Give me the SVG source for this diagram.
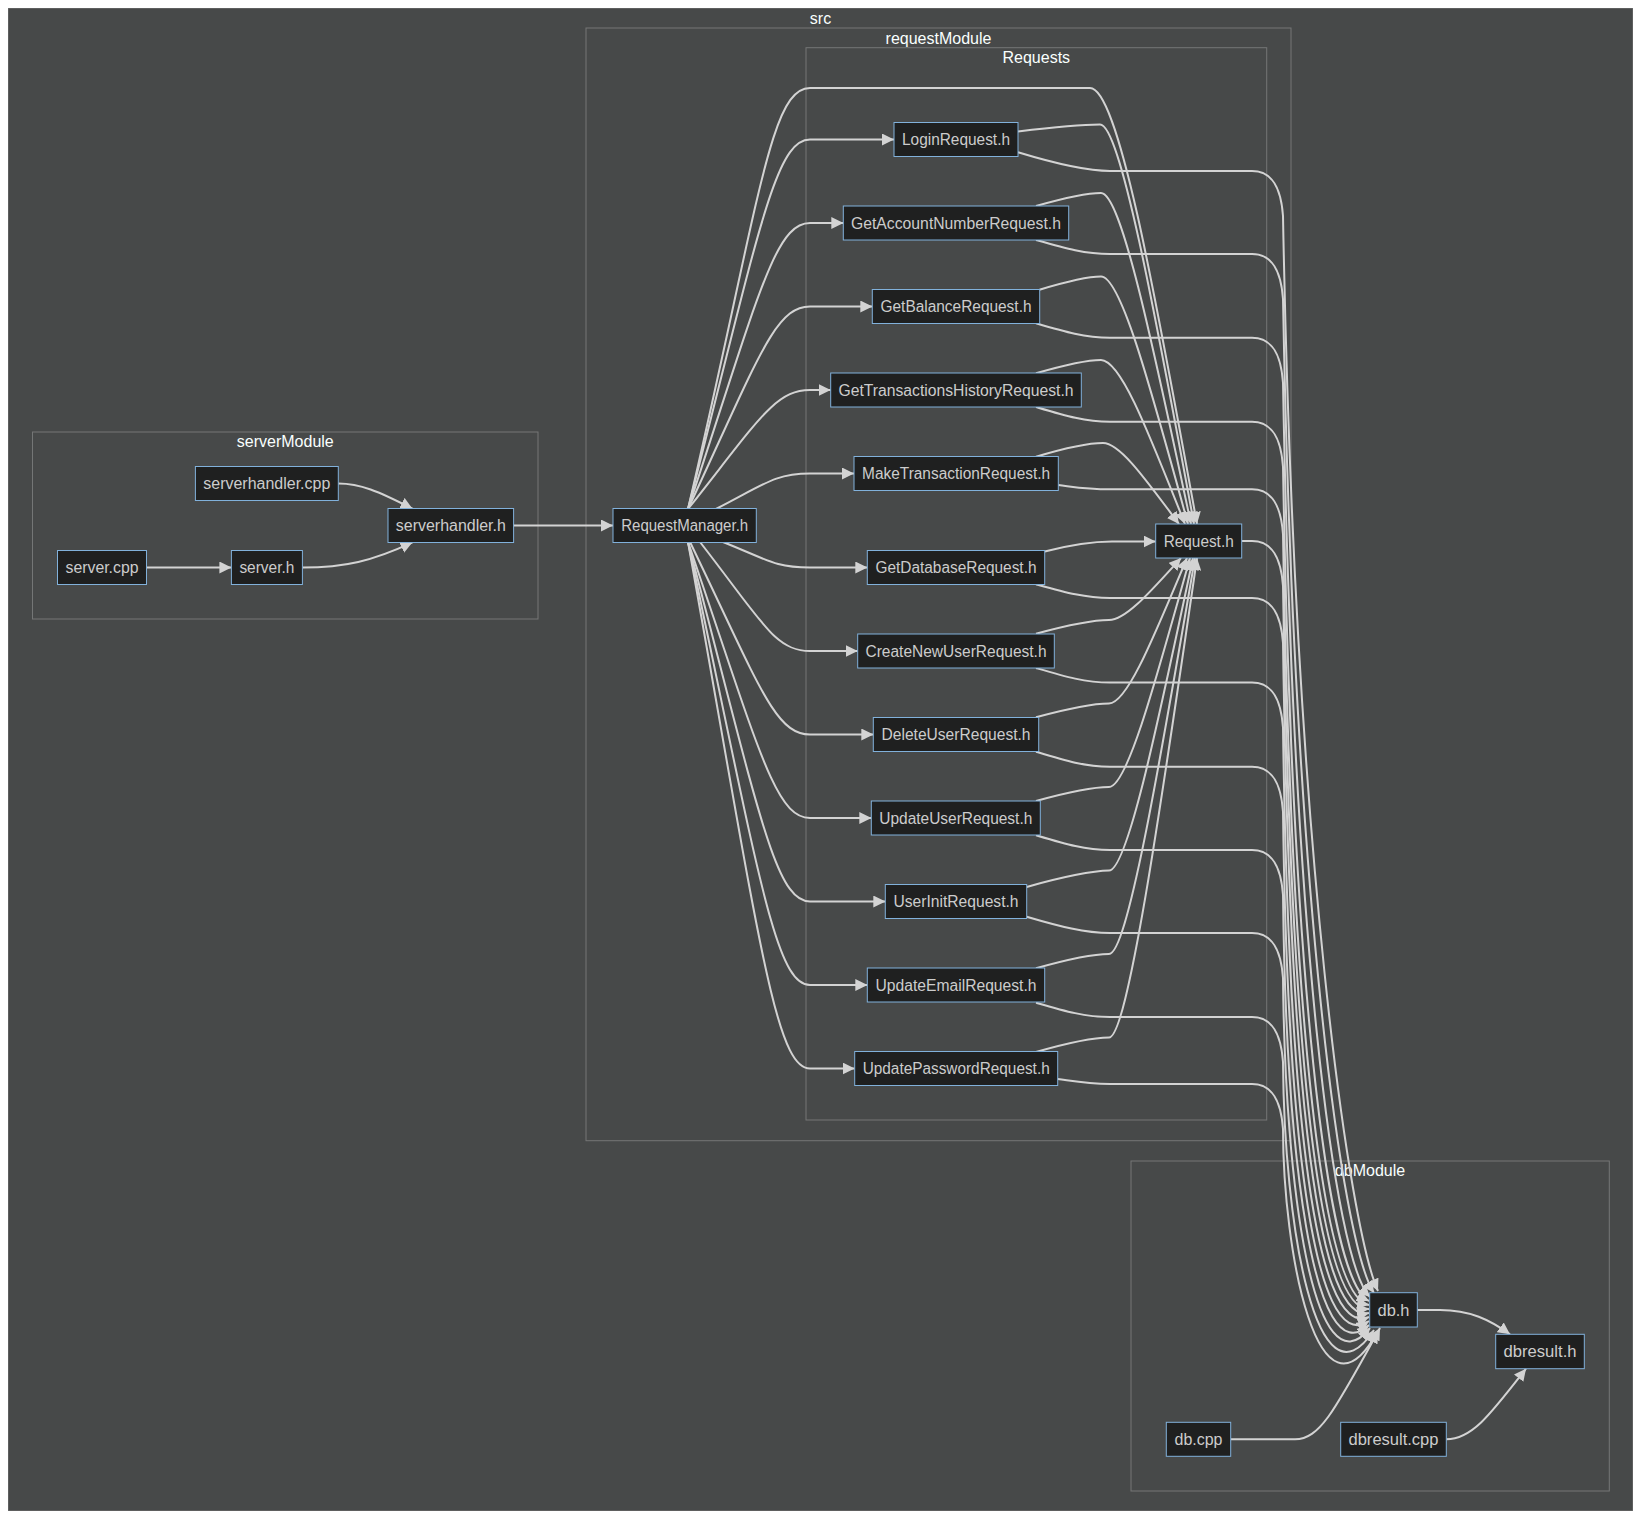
<svg xmlns="http://www.w3.org/2000/svg" width="1650" height="1526" viewBox="0 0 1650 1526">
<defs>
<style>
.cluster rect{fill:#474949;stroke:rgba(255,255,255,0.25);stroke-width:1}
.clabel{fill:#F9FFFE;font-family:"Liberation Sans",Arial,sans-serif;font-size:16px;text-anchor:middle}
.node rect{fill:#1f2020;stroke:#81B1DB;stroke-width:1}
.node text{fill:#cccccc;font-family:"Liberation Sans",Arial,sans-serif;font-size:16px;text-anchor:middle}
#edges path{fill:none;stroke:#d3d3d3;stroke-width:2;marker-end:url(#arrow)}
</style>
<marker id="arrow" viewBox="0 0 10 10" refX="10" refY="5" markerUnits="userSpaceOnUse" markerWidth="12" markerHeight="12" orient="auto">
<path d="M0,0 L10,5 L0,10 z" fill="#d3d3d3"/>
</marker>
</defs>

<g id="clusters">
<g class="cluster" id="cluster-src"><rect x="8" y="8" width="1625" height="1503"/><text class="clabel" x="820.5" y="23.5">src</text></g>
<g class="cluster" id="cluster-requestModule"><rect x="586" y="28" width="705" height="1112.7"/><text class="clabel" x="938.5" y="43.5">requestModule</text></g>
<g class="cluster" id="cluster-Requests"><rect x="806" y="47.7" width="460.7" height="1072.3"/><text class="clabel" x="1036.3" y="63">Requests</text></g>
<g class="cluster" id="cluster-serverModule"><rect x="32.5" y="432" width="505.5" height="187"/><text class="clabel" x="285.3" y="447">serverModule</text></g>
<g class="cluster" id="cluster-dbModule"><rect x="1131" y="1161" width="478.3" height="330"/><text class="clabel" x="1370" y="1176">dbModule</text></g>
</g>

<g id="edges">
<!-- serverModule -->
<path d="M146.5,567.5 L231.4,567.5"/>
<path d="M338.3,483.5 C360,483.5 378,491 412.5,508.7"/>
<path d="M302.5,567.5 C345,567.5 372,561 412.5,542.3"/>
<path d="M513.6,525.5 L613,525.5"/>
<!-- RequestManager -> Request.h -->
<path d="M688,509 C760,200 770,88 810,88 L1090,88 C1118,88 1153.4,284.2 1197,524"/>
<!-- RequestManager -> requests -->
<path d="M688,509 C758.8,231.9 775,139.5 810,139.5 L894,139.5"/>
<path d="M688,509 C758.8,294.5 775,223 810,223 L843.3,223"/>
<path d="M688,509 C758.8,357.1 775,306.5 810,306.5 L872.3,306.5"/>
<path d="M688,509 C758.8,419.8 775,390 810,390 L830.7,390"/>
<path d="M716,509 C765,484 775,473.5 810,473.5 L854,473.5"/>
<path d="M723,542 C768,560 775,567.5 810,567.5 L867.3,567.5"/>
<path d="M700,542 C763.6,623.8 775,651 810,651 L857.7,651"/>
<path d="M690,542 C759.6,686.4 775,734.5 810,734.5 L873.3,734.5"/>
<path d="M688,542 C758.8,749 775,818 810,818 L871.3,818"/>
<path d="M688,542 C758.8,811.6 775,901.5 810,901.5 L885.3,901.5"/>
<path d="M688,542 C758.8,874.3 775,985 810,985 L867.3,985"/>
<path d="M688,542 C758.8,936.9 775,1068.5 810,1068.5 L854.7,1068.5"/>
<!-- requests -> Request.h (above) -->
<path d="M1018,131.5 C1052.4,127.3 1085,124.5 1100,124.5 C1120,124.5 1153.5,304.3 1194,524"/>
<path d="M1036,206 C1063.6,198.2 1086,193 1101,193 C1121,193 1152.3,342 1191,524"/>
<path d="M1039.5,289.7 C1065.7,281.8 1086,276.5 1101,276.5 C1121,276.5 1150.6,387.9 1188,524"/>
<path d="M1036,373.3 C1063.6,365.3 1086,360 1101,360 C1121,360 1149,433.8 1185,524"/>
<path d="M1036,456.7 C1063.6,448.5 1088,443 1103,443 C1120,443 1145.7,479.4 1179,524"/>
<!-- GetDatabase -> Request.h -->
<path d="M1044.7,551.5 C1070,545 1090,541.5 1112,541.5 L1155.7,541.5"/>
<!-- requests -> Request.h (below) -->
<path d="M1036,633.7 C1066.4,625.5 1094,620 1109,620 C1126,620 1150,592.1 1181,558"/>
<path d="M1036,717.3 C1066.4,709 1094,703.5 1109,703.5 C1127,703.5 1153.3,638 1187,558"/>
<path d="M1036,801 C1066.4,792.6 1094,787 1109,787 C1127,787 1154.9,684 1190,558"/>
<path d="M1026.7,887 C1060.8,877.1 1094,870.5 1109,870.5 C1127,870.5 1156.5,729.9 1193,558"/>
<path d="M1036,968.3 C1066.4,959.7 1094,954 1109,954 C1127,954 1157.7,775.8 1195,558"/>
<path d="M1036,1052 C1066.4,1043.3 1094,1037.5 1109,1037.5 C1127,1037.5 1158.8,821.7 1197,558"/>
<!-- -> db.h fan -->
<path d="M1018,152.3 C1054.8,163.5 1085,171 1110,171 L1252,171 C1272,171 1281,187 1283,216 C1295,861 1350,1230 1378,1291"/>
<path d="M1036,240 C1065.6,248.4 1085,254 1110,254 L1252,254 C1272,254 1281,270 1283,299 C1294,895.4 1342,1245 1374,1293"/>
<path d="M1036,323.3 C1065.6,332 1085,337.7 1110,337.7 L1252,337.7 C1272,337.7 1281,353.7 1283,382.7 C1293,931.3 1334,1262 1370,1297"/>
<path d="M1036,407 C1065.6,415.8 1085,421.7 1110,421.7 L1252,421.7 C1272,421.7 1281,437.7 1283,466.7 C1292,967.3 1326,1280 1369,1301"/>
<path d="M1058.3,485 C1079,487.6 1088,489.3 1110,489.3 L1252,489.3 C1272,489.3 1281,505.3 1283,534.3 C1291,996.7 1320,1296 1369,1305"/>
<path d="M1241.7,541 L1252,541 C1272,541 1281,557 1283,586 C1290,1019.8 1316,1311 1369,1309"/>
<path d="M1036,584.3 C1065.6,592.5 1085,598 1110,598 L1252,598 C1272,598 1281,614 1283,643 C1289,1045 1313,1326 1369,1313"/>
<path d="M1036,668 C1065.6,676.7 1085,682.5 1110,682.5 L1252,682.5 C1272,682.5 1281,698.5 1283,727.5 C1288,1081.2 1312,1342 1369,1317"/>
<path d="M1036,751.7 C1065.6,760.7 1085,766.7 1110,766.7 L1252,766.7 C1272,766.7 1281,782.7 1283,811.7 C1287,1117.3 1312,1360 1369,1321"/>
<path d="M1036,835.3 C1065.6,844.1 1085,850 1110,850 L1252,850 C1272,850 1281,866 1283,895 C1286,1153 1313,1378 1369,1325"/>
<path d="M1026.7,916.7 C1060,926.5 1085,933 1110,933 L1252,933 C1272,933 1281,949 1283,978 C1285,1188 1314,1397 1370,1328"/>
<path d="M1036,1002.7 C1065.6,1011.3 1085,1017 1110,1017 L1252,1017 C1272,1017 1281,1033 1283,1062 C1284,1222.8 1316,1418 1374,1330"/>
<path d="M1057.7,1079 C1078.6,1082 1088,1084 1110,1084 L1252,1084 C1272,1084 1281,1100 1283,1129 C1283,1250 1318,1440 1378,1331"/>
<!-- dbModule -->
<path d="M1230.7,1439.3 L1295,1439.3 C1320,1439.3 1335,1410 1380,1328"/>
<path d="M1417.3,1310 L1440,1310 C1470,1310 1490,1320 1510,1334.3"/>
<path d="M1446.3,1439.3 C1472,1439.3 1490,1415 1526,1368.7"/>
</g>

<g id="nodes">
<g class="node" id="serverhandler_cpp"><rect x="195.4" y="466.5" width="142.9" height="34"/><text x="266.8" y="489" textLength="127" lengthAdjust="spacingAndGlyphs">serverhandler.cpp</text></g>
<g class="node" id="server_cpp"><rect x="57.5" y="550.5" width="89" height="34"/><text x="102" y="573" textLength="73" lengthAdjust="spacingAndGlyphs">server.cpp</text></g>
<g class="node" id="server_h"><rect x="231.4" y="550.5" width="71" height="34"/><text x="266.9" y="573" textLength="55" lengthAdjust="spacingAndGlyphs">server.h</text></g>
<g class="node" id="serverhandler_h"><rect x="388" y="508.5" width="125.6" height="34"/><text x="450.8" y="531" textLength="110" lengthAdjust="spacingAndGlyphs">serverhandler.h</text></g>
<g class="node" id="RequestManager_h"><rect x="613" y="508.5" width="143.3" height="34"/><text x="684.7" y="531" textLength="127" lengthAdjust="spacingAndGlyphs">RequestManager.h</text></g>
<g class="node" id="LoginRequest_h"><rect x="894" y="122.5" width="124" height="34"/><text x="956" y="145" textLength="108" lengthAdjust="spacingAndGlyphs">LoginRequest.h</text></g>
<g class="node" id="GetAccountNumberRequest_h"><rect x="843.3" y="206" width="225.4" height="34"/><text x="956" y="228.5" textLength="210" lengthAdjust="spacingAndGlyphs">GetAccountNumberRequest.h</text></g>
<g class="node" id="GetBalanceRequest_h"><rect x="872.3" y="289.5" width="167.4" height="34"/><text x="956" y="312" textLength="151" lengthAdjust="spacingAndGlyphs">GetBalanceRequest.h</text></g>
<g class="node" id="GetTransactionsHistoryRequest_h"><rect x="830.7" y="373" width="250.6" height="34"/><text x="956" y="395.5" textLength="235" lengthAdjust="spacingAndGlyphs">GetTransactionsHistoryRequest.h</text></g>
<g class="node" id="MakeTransactionRequest_h"><rect x="854" y="456.5" width="204.3" height="34"/><text x="956.1" y="479" textLength="188" lengthAdjust="spacingAndGlyphs">MakeTransactionRequest.h</text></g>
<g class="node" id="GetDatabaseRequest_h"><rect x="867.3" y="550.5" width="177.4" height="34"/><text x="956" y="573" textLength="161" lengthAdjust="spacingAndGlyphs">GetDatabaseRequest.h</text></g>
<g class="node" id="CreateNewUserRequest_h"><rect x="857.7" y="634" width="196.6" height="34"/><text x="956" y="656.5" textLength="181" lengthAdjust="spacingAndGlyphs">CreateNewUserRequest.h</text></g>
<g class="node" id="DeleteUserRequest_h"><rect x="873.3" y="717.5" width="165.4" height="34"/><text x="956" y="740" textLength="149" lengthAdjust="spacingAndGlyphs">DeleteUserRequest.h</text></g>
<g class="node" id="UpdateUserRequest_h"><rect x="871.3" y="801" width="169" height="34"/><text x="955.8" y="823.5" textLength="153" lengthAdjust="spacingAndGlyphs">UpdateUserRequest.h</text></g>
<g class="node" id="UserInitRequest_h"><rect x="885.3" y="884.5" width="141.4" height="34"/><text x="956" y="907" textLength="125" lengthAdjust="spacingAndGlyphs">UserInitRequest.h</text></g>
<g class="node" id="UpdateEmailRequest_h"><rect x="867.3" y="968" width="177.4" height="34"/><text x="956" y="990.5" textLength="161" lengthAdjust="spacingAndGlyphs">UpdateEmailRequest.h</text></g>
<g class="node" id="UpdatePasswordRequest_h"><rect x="854.7" y="1051.5" width="203" height="34"/><text x="956.2" y="1074" textLength="187" lengthAdjust="spacingAndGlyphs">UpdatePasswordRequest.h</text></g>
<g class="node" id="Request_h"><rect x="1155.7" y="524" width="86" height="34"/><text x="1198.7" y="546.5" textLength="70" lengthAdjust="spacingAndGlyphs">Request.h</text></g>
<g class="node" id="db_h"><rect x="1369.7" y="1292.7" width="47.6" height="34.3"/><text x="1393.5" y="1315.5" textLength="32" lengthAdjust="spacingAndGlyphs">db.h</text></g>
<g class="node" id="dbresult_h"><rect x="1495.7" y="1334.3" width="88.6" height="34.4"/><text x="1540" y="1357" textLength="73" lengthAdjust="spacingAndGlyphs">dbresult.h</text></g>
<g class="node" id="db_cpp"><rect x="1166.3" y="1422.3" width="64.4" height="34"/><text x="1198.5" y="1444.8" textLength="48" lengthAdjust="spacingAndGlyphs">db.cpp</text></g>
<g class="node" id="dbresult_cpp"><rect x="1340.7" y="1422.3" width="105.6" height="34"/><text x="1393.5" y="1444.8" textLength="90" lengthAdjust="spacingAndGlyphs">dbresult.cpp</text></g>
</g>
</svg>
